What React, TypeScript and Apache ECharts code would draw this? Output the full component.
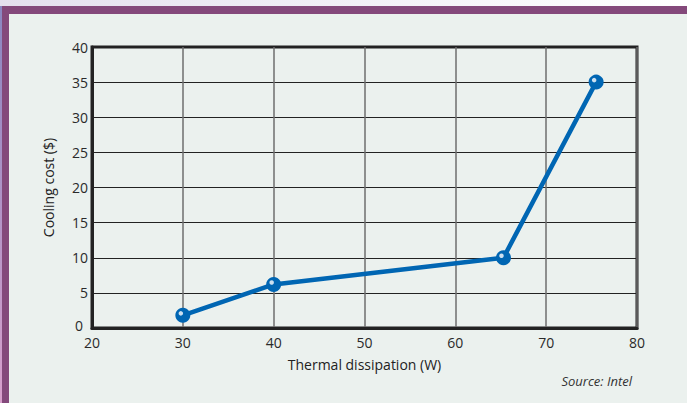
import React, { useEffect, useRef } from "react";
import * as echarts from "echarts";

const xValues = [30, 40, 65.3, 75.5];
const yValues = [1.8, 6.2, 10, 35];
const xAxisName = "Thermal dissipation (W)";
const yAxisName = "Cooling cost ($)";
const sourceText = "Source: Intel";

export default function App() {
  const ref = useRef<HTMLDivElement>(null);
  useEffect(() => {
    document.body.style.margin = "0";
    const chart = echarts.init(ref.current!, null, { renderer: "svg" });
    const data = xValues.map((x, i) => [x, yValues[i]]);
    const font = "'Open Sans', 'Noto Sans', sans-serif";
    chart.setOption({
      animation: false,
      backgroundColor: "#ebf1ee",
      textStyle: { fontFamily: font },
      graphic: [
        {
          type: "rect",
          shape: { x: 0, y: 0, width: 687, height: 6 },
          style: {
            fill: new echarts.graphic.LinearGradient(0, 0, 1, 0, [
              { offset: 0, color: "#e4e0ee" },
              { offset: 1, color: "#ffffff" },
            ]),
          },
          z: 0,
        },
        {
          type: "rect",
          shape: { x: 0, y: 6, width: 687, height: 8 },
          style: { fill: "#84497b" },
          z: 1,
        },
        {
          type: "rect",
          shape: { x: 2, y: 6, width: 7, height: 397 },
          style: { fill: "#84497b" },
          z: 1,
        },
        {
          type: "rect",
          shape: { x: 0, y: 6, width: 2, height: 397 },
          style: {
            fill: new echarts.graphic.LinearGradient(0, 0, 0, 1, [
              { offset: 0, color: "#8a86c0" },
              { offset: 1, color: "#d8a0cc" },
            ]),
          },
          z: 1,
        },
        {
          type: "text",
          right: 55,
          top: 374,
          style: {
            text: sourceText,
            font: `italic 13px ${font}`,
            fill: "#333",
          },
        },
      ],
      grid: {
        left: 92,
        right: 50,
        top: 47,
        bottom: 75,
        show: true,
        borderColor: "#222",
        borderWidth: 3,
        backgroundColor: "transparent",
      },
      xAxis: {
        type: "value",
        min: 20,
        max: 80,
        interval: 10,
        name: xAxisName,
        nameLocation: "middle",
        nameGap: 29,
        nameTextStyle: { fontSize: 14, color: "#222", fontFamily: font },
        axisLine: { show: true, lineStyle: { color: "#222", width: 3 } },
        axisTick: { show: false },
        axisLabel: {
          fontSize: 14,
          color: "#2a2a2a",
          margin: 8,
          lineHeight: 13,
          fontFamily: font,
        },
        splitLine: { show: true, lineStyle: { color: "#6e6e6e", width: 1.5 } },
      },
      yAxis: {
        type: "value",
        min: 0,
        max: 40,
        interval: 5,
        name: yAxisName,
        nameLocation: "middle",
        nameGap: 37,
        nameTextStyle: { fontSize: 14, color: "#222", fontFamily: font },
        axisLine: { show: true, lineStyle: { color: "#222", width: 3 } },
        axisTick: { show: false },
        axisLabel: {
          fontSize: 14,
          color: "#2a2a2a",
          margin: 4,
          lineHeight: 11,
          fontFamily: font,
          formatter: (v: number) => (v === 0 ? "{z|0}" : String(v)),
          rich: {
            z: {
              fontSize: 14,
              color: "#2a2a2a",
              fontFamily: font,
              lineHeight: 11,
              padding: [0, 5, 5, 0],
            },
          },
        },
        splitLine: { show: true, lineStyle: { color: "#222", width: 1.2 } },
      },
      series: [
        {
          type: "line",
          data,
          lineStyle: { color: "#0066b3", width: 4.5 },
          itemStyle: { color: "#0066b3" },
          symbol: "circle",
          symbolSize: 15,
          z: 3,
        },
        {
          type: "scatter",
          data,
          symbol: "circle",
          symbolSize: 4.5,
          symbolOffset: [-2, -2],
          itemStyle: { color: "#ffffff" },
          z: 4,
        },
      ],
    });
    return () => chart.dispose();
  }, []);
  return (
    <div
      ref={ref}
      style={{ position: "fixed", left: 0, top: 0, width: 687, height: 403 }}
    />
  );
}
